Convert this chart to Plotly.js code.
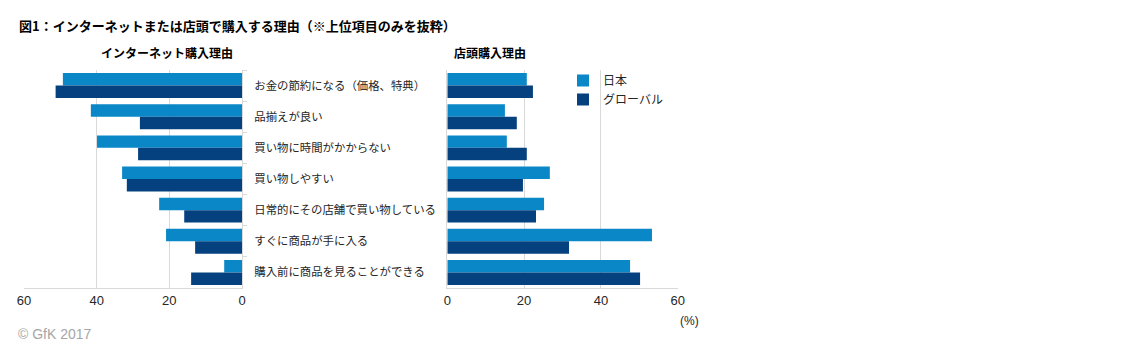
<!DOCTYPE html>
<html><head><meta charset="utf-8">
<script src="https://cdn.plot.ly/plotly-3.0.1.min.js"></script>
<style>html,body{margin:0;padding:0;background:#fff}#chart{width:1134px;height:348px}</style>
</head><body><div id="chart"></div>
<script>
const categories = [
  "お金の節約になる（価格、特典）",
  "品揃えが良い",
  "買い物に時間がかからない",
  "買い物しやすい",
  "日常的にその店舗で買い物している",
  "すぐに商品が手に入る",
  "購入前に商品を見ることができる"
];
const seriesNames = ["日本", "グローバル"];
const onlineJapan  = [49.3, 41.6, 39.9, 33.0, 22.8, 20.9, 4.9];
const onlineGlobal = [51.3, 28.1, 28.6, 31.7, 15.9, 12.9, 14.0];
const storeJapan   = [20.7, 15.0, 15.5, 26.7, 25.2, 53.3, 47.6];
const storeGlobal  = [22.3, 18.1, 20.7, 19.7, 23.1, 31.7, 50.2];
const xTicks = [0, 20, 40, 60];

const W = 1134, H = 348;
const px = v => v / W, py = v => 1 - v / H;
const cLight = "#0a87c7", cDark = "#05407f";
const tickFont = {family: "Liberation Sans, Arial, sans-serif", size: 13, color: "#262626"};
const jp = "Noto Sans CJK JP, sans-serif";

const data = [
  {type: "bar", orientation: "h", x: onlineJapan, y: categories, name: seriesNames[0],
   marker: {color: cLight}, xaxis: "x", yaxis: "y", showlegend: true, hoverinfo: "x+y"},
  {type: "bar", orientation: "h", x: onlineGlobal, y: categories, name: seriesNames[1],
   marker: {color: cDark}, xaxis: "x", yaxis: "y", showlegend: true, hoverinfo: "x+y"},
  {type: "bar", orientation: "h", x: storeJapan, y: categories, name: seriesNames[0],
   marker: {color: cLight}, xaxis: "x2", yaxis: "y2", showlegend: false, hoverinfo: "x+y"},
  {type: "bar", orientation: "h", x: storeGlobal, y: categories, name: seriesNames[1],
   marker: {color: cDark}, xaxis: "x2", yaxis: "y2", showlegend: false, hoverinfo: "x+y"}
];

const yDom = [py(288), py(70)];
const gridC = "#d9d9d9";
const layout = {
  width: W, height: H,
  margin: {l: 0, r: 0, t: 0, b: 0},
  paper_bgcolor: "#fff", plot_bgcolor: "#fff",
  barmode: "group", bargap: 0.2, bargroupgap: 0,
  showlegend: true,
  legend: {x: px(563), y: py(66), xanchor: "left", yanchor: "top",
           font: {family: jp, size: 12, color: "#262626"},
           bgcolor: "rgba(0,0,0,0)", itemwidth: 30},
  xaxis: {domain: [px(24), px(242)], range: [60, 0], autorange: false,
          tickvals: xTicks, ticktext: xTicks.map(String), showgrid: true, gridcolor: gridC,
          zeroline: false, showline: true, linecolor: gridC, ticks: "", tickfont: tickFont,
          anchor: "y", fixedrange: true},
  yaxis: {domain: yDom, type: "category", categoryorder: "array", categoryarray: categories,
          autorange: "reversed", side: "right", anchor: "x", showline: true, linecolor: gridC,
          ticks: "outside", tickson: "boundaries", ticklen: 4, tickcolor: gridC,
          showgrid: false, tickfont: {family: jp, size: 11.4, color: "#262626"},
          ticklabelstandoff: 9, fixedrange: true},
  xaxis2: {domain: [px(447.3), px(677.7)], range: [0, 60], autorange: false,
          tickvals: xTicks, ticktext: xTicks.map(String), showgrid: true, gridcolor: gridC,
          zeroline: false, showline: true, linecolor: gridC, ticks: "", tickfont: tickFont,
          anchor: "y2", fixedrange: true},
  yaxis2: {domain: yDom, type: "category", categoryorder: "array", categoryarray: categories,
          autorange: "reversed", side: "left", anchor: "x2", showline: true, linecolor: gridC,
          ticks: "", showticklabels: false, showgrid: false, fixedrange: true},
  annotations: [
    {text: "<b>図1：インターネットまたは店頭で購入する理由（※上位項目のみを抜粋）</b>",
     x: px(17), y: py(25), xref: "paper", yref: "paper", xanchor: "left", yanchor: "middle",
     showarrow: false, font: {family: jp, size: 13, color: "#000"}},
    {text: "<b>インターネット購入理由</b>", x: px(99), y: py(52), xref: "paper", yref: "paper",
     xanchor: "left", yanchor: "middle", showarrow: false, font: {family: jp, size: 12, color: "#000"}},
    {text: "<b>店頭購入理由</b>", x: px(452), y: py(52), xref: "paper", yref: "paper",
     xanchor: "left", yanchor: "middle", showarrow: false, font: {family: jp, size: 12, color: "#000"}},
    {text: "(%)", x: px(678), y: py(321), xref: "paper", yref: "paper",
     xanchor: "left", yanchor: "middle", showarrow: false,
     font: {family: "Liberation Sans, Arial, sans-serif", size: 12, color: "#262626"}},
    {text: "© GfK 2017", x: px(16), y: py(334), xref: "paper", yref: "paper",
     xanchor: "left", yanchor: "middle", showarrow: false,
     font: {family: "Liberation Sans, Arial, sans-serif", size: 14, color: "#a6a6a6"}}
  ]
};
Plotly.newPlot("chart", data, layout, {displayModeBar: false, staticPlot: true});
</script></body></html>
